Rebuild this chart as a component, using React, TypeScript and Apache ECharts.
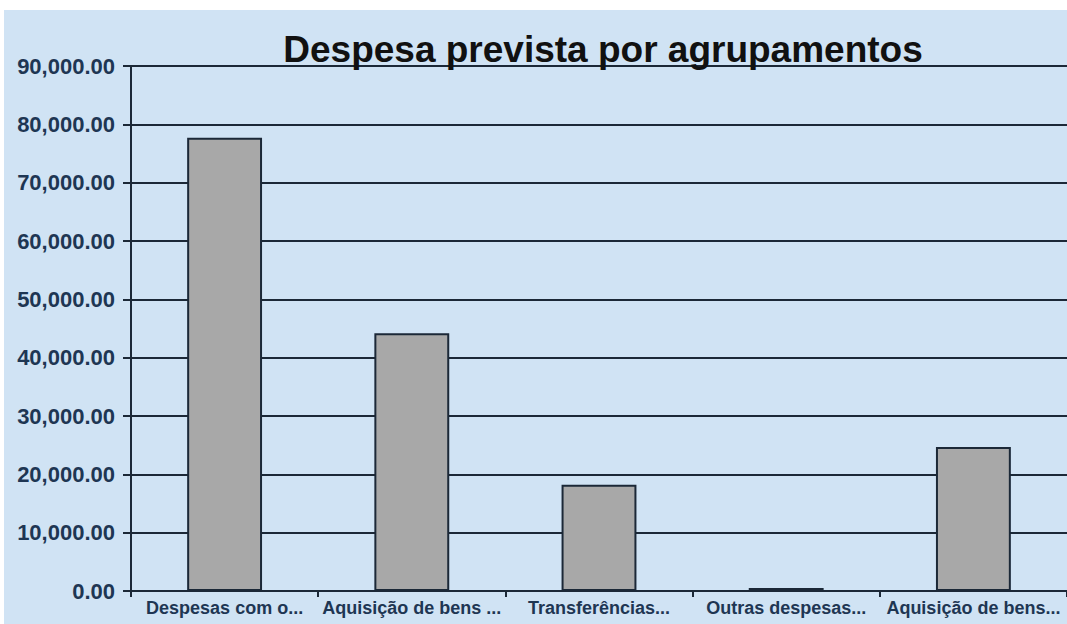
import React, { useEffect, useRef } from "react";
import * as echarts from "echarts";

const categories = [
  "Despesas com o...",
  "Aquisição de bens ...",
  "Transferências...",
  "Outras despesas...",
  "Aquisição de bens...",
];
const values = [77700, 44200, 18200, 500, 24700];
const yMin = 0;
const yMax = 90000;
const yInterval = 10000;
const titleText = "Despesa prevista por agrupamentos";

const fmt = (v: number) =>
  v.toLocaleString("en-US", { minimumFractionDigits: 2, maximumFractionDigits: 2 });

export default function App() {
  const ref = useRef<HTMLDivElement>(null);
  useEffect(() => {
    if (!ref.current) return;
    const chart = echarts.init(ref.current, undefined, { renderer: "svg" });
    const dark = "#1b2837";
    const labelColor = "#1e3653";
    chart.setOption({
      animation: false,
      backgroundColor: "#d0e3f4",
      title: {
        text: titleText,
        left: 594,
        top: 16,
        textAlign: "center",
        textStyle: {
          fontFamily: "Liberation Sans, Arial, sans-serif",
          fontWeight: "bold",
          fontSize: 37,
          color: "#111111",
        },
      },
      grid: { left: 127, top: 56, bottom: 33, right: -3, containLabel: false },
      xAxis: {
        type: "category",
        data: categories,
        axisLine: { show: true, lineStyle: { color: dark, width: 2 } },
        axisTick: { show: true, length: 6, lineStyle: { color: dark, width: 2 } },
        axisLabel: {
          margin: 8,
          color: labelColor,
          fontFamily: "Liberation Sans, Arial, sans-serif",
          fontWeight: "bold",
          fontSize: 18,
          interval: 0,
        },
      },
      yAxis: {
        type: "value",
        min: yMin,
        max: yMax,
        interval: yInterval,
        axisLine: { show: true, lineStyle: { color: dark, width: 2 } },
        axisTick: { show: true, length: 8, lineStyle: { color: dark, width: 2 } },
        splitLine: { show: true, lineStyle: { color: dark, width: 2 } },
        axisLabel: {
          margin: 16,
          color: labelColor,
          fontFamily: "Liberation Sans, Arial, sans-serif",
          fontWeight: "bold",
          fontSize: 22,
          formatter: (v: number) => fmt(v),
        },
      },
      series: [
        {
          type: "bar",
          data: values,
          barWidth: "40%",
          itemStyle: { color: "#a8a8a8", borderColor: dark, borderWidth: 2 },
        },
      ],
    });
    return () => chart.dispose();
  }, []);
  return (
    <div
      style={{
        position: "fixed",
        left: 0,
        top: 0,
        width: 1067,
        height: 624,
        background: "#ffffff",
        overflow: "hidden",
      }}
    >
      <div
        ref={ref}
        style={{ position: "absolute", left: 4, top: 10, width: 1063, height: 614 }}
      />
    </div>
  );
}
